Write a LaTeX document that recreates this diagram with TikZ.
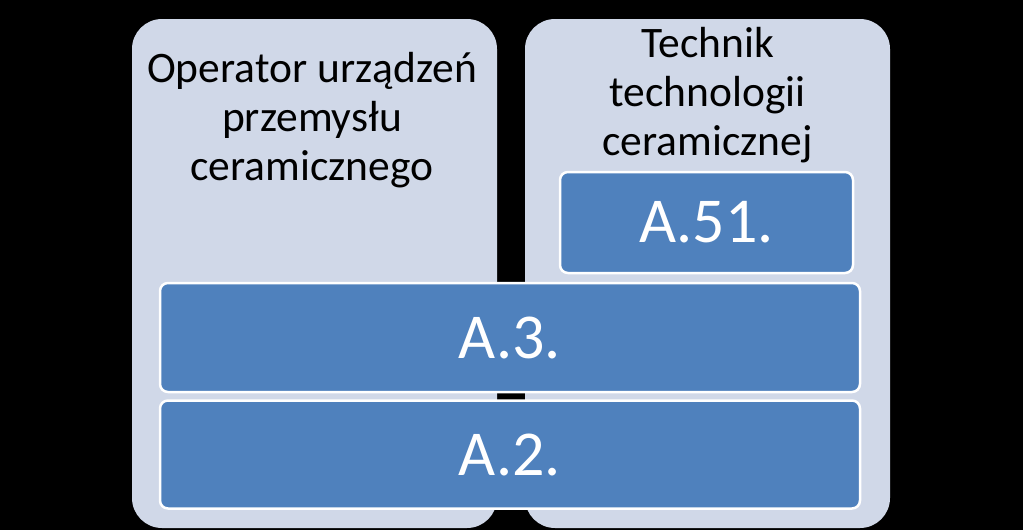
\documentclass[tikz,border=0pt]{standalone}
\usepackage{fontspec}
\setmainfont{Carlito}
\usepackage{tikz}
\usetikzlibrary{positioning}

\definecolor{fondcol}{RGB}{208,216,232}
\definecolor{bleuA}{RGB}{79,129,189}

\begin{document}
\begin{tikzpicture}[
                x=1pt, y=-1pt,
                colonne/.style={draw=none, fill=fondcol, rounded corners=30pt, minimum width=365pt, minimum height=509pt},
                titre/.style={align=center, inner sep=0pt, font=\fontsize{43.5}{49}\selectfont, text=black},
                code/.style={draw=white, line width=2.5pt, fill=bleuA, rounded corners=8pt, text=white, font=\fontsize{64}{70}\selectfont}
            ]

            % Fond noir
            \fill[black] (0,0) rectangle (1023,530);

            % Les deux colonnes
            \node[colonne] (operator) at (314.5,273.5) {};
            \node[colonne] (technik) at (707.5,273.5) {};

            % Titres des colonnes
            \node[titre, anchor=north] (t-operator) at (312,52) {Operator urządzeń\\przemysłu\\ceramicznego};
            \node[titre, anchor=north] (t-technik) at (707.5,27) {Technik\\technologii\\ceramicznej};

            % Les qualifications
            \node[code, minimum width=293pt, minimum height=101pt] (a51) at (706.5,222.5) {A.51.};
            \node[code, minimum width=700pt, minimum height=109pt] (a3) at (510,337.5) {A.3.};
            \node[code, minimum width=700pt, minimum height=108pt, below=6pt of a3] (a2) {A.2.};

        \end{tikzpicture}
\end{document}
